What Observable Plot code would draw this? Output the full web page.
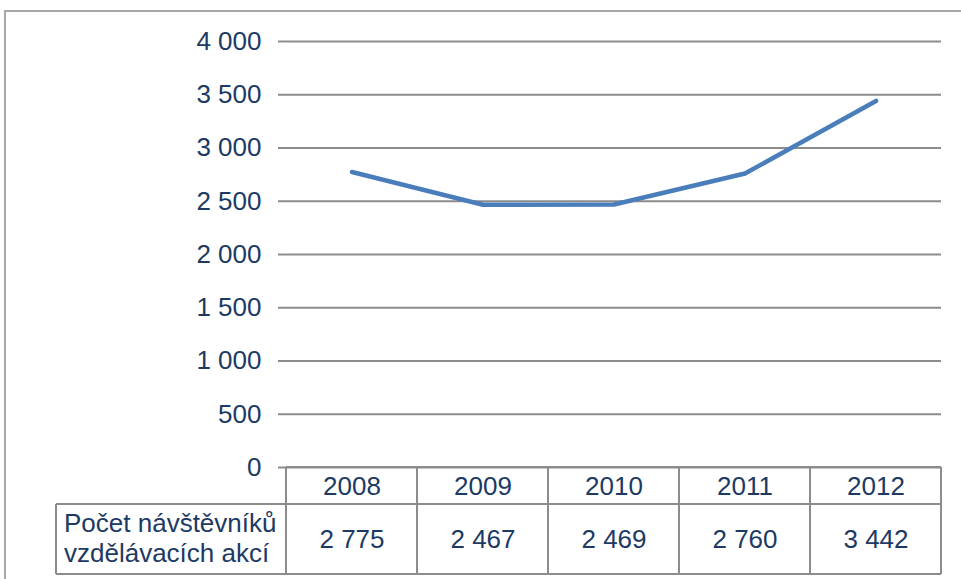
<!DOCTYPE html>
<html>
<head>
<meta charset="utf-8">
<script src="https://cdn.jsdelivr.net/npm/d3@7"></script>
<script src="https://cdn.jsdelivr.net/npm/@observablehq/plot@0.6"></script>
<style>
  html, body { margin: 0; padding: 0; background: #fff; }
  #chart svg { display: block; }
  #chart svg text { font-family: "Liberation Sans", Arial, sans-serif; }
  #chart svg g[aria-label="y-axis tick label"] text { font-size: 26px; }
</style>
</head>
<body>
<div id="chart"></div>
<script>
const years = ["2008", "2009", "2010", "2011", "2012"];
const visitors = [2775, 2467, 2469, 2760, 3442];
const yTicks = [0, 500, 1000, 1500, 2000, 2500, 3000, 3500, 4000];
const seriesLabel = ["Počet návštěvníků", "vzdělávacích akcí"];

const data = years.map((y, i) => ({year: y, value: visitors[i]}));
const fmt = d => d3.format(",")(d).replace(/,/g, " ");
const textColor = "#1c3a63";
const gridColor = "#8c8c8c";
const font = "Liberation Sans, Arial, sans-serif";

const chart = Plot.plot({
  width: 961,
  height: 579,
  marginLeft: 286,
  marginRight: 20,
  marginTop: 41,
  marginBottom: 112,
  style: {fontFamily: font, fontSize: "26px", color: textColor, background: "#fff", overflow: "visible"},
  x: {type: "band", domain: years, padding: 0, axis: null},
  y: {domain: [0, 4000], ticks: yTicks, tickFormat: fmt, tickSize: 8, tickPadding: 17, label: null},
  marks: [
    Plot.gridY(yTicks, {stroke: gridColor, strokeOpacity: 1, strokeWidth: 2}),
    Plot.axisY(yTicks, {tickFormat: fmt, tickSize: 8, tickPadding: 17, stroke: gridColor, strokeWidth: 2, fill: textColor, fontSize: 26, label: null}),
    Plot.ruleX([0], {frameAnchor: "left", stroke: gridColor, strokeWidth: 2}),
    Plot.line(data, {x: "year", y: "value", stroke: "#4a7ebb", strokeWidth: 4.5, strokeLinecap: "round", strokeLinejoin: "round"}),
    // table texts
    Plot.text(data, {x: "year", text: "year", frameAnchor: "bottom", lineAnchor: "middle", dy: 19, fill: textColor, fontSize: 26}),
    Plot.text(data, {x: "year", text: d => fmt(d.value), frameAnchor: "bottom", lineAnchor: "middle", dy: 72, fill: textColor, fontSize: 26})
  ]
});

document.getElementById("chart").appendChild(chart);

// table lines & row label drawn with the plot's own x scale
const svg = d3.select(chart);
const x = chart.scale("x");
const bw = x.bandwidth;
const left = x.apply(years[0]);
const right = x.apply(years[years.length - 1]) + bw;
const yZero = chart.scale("y").apply(0);
const hdrBottom = yZero + 37;
const tblBottom = yZero + 107;
const labelLeft = 56;
const g = svg.append("g").attr("stroke", gridColor).attr("stroke-width", 2).attr("fill", "none");
// outer frame
g.append("rect").attr("x", 5).attr("y", 11).attr("width", 1200).attr("height", 1200).attr("stroke-width", 1.5);
// horizontal lines
g.append("line").attr("x1", left).attr("x2", right).attr("y1", yZero).attr("y2", yZero);
g.append("line").attr("x1", labelLeft).attr("x2", right).attr("y1", hdrBottom).attr("y2", hdrBottom);
g.append("line").attr("x1", labelLeft).attr("x2", right).attr("y1", tblBottom).attr("y2", tblBottom);
// vertical lines
g.append("line").attr("x1", labelLeft).attr("x2", labelLeft).attr("y1", hdrBottom).attr("y2", tblBottom);
years.forEach(yr => {
  const xx = x.apply(yr);
  g.append("line").attr("x1", xx).attr("x2", xx).attr("y1", yZero).attr("y2", tblBottom);
});
g.append("line").attr("x1", right).attr("x2", right).attr("y1", yZero).attr("y2", tblBottom);
// row label
const t = svg.append("text").attr("text-anchor", "start").attr("fill", textColor).attr("font-size", 26).style("font-size", "26px");
seriesLabel.forEach((s, i) => {
  t.append("tspan").attr("x", labelLeft + 8).attr("y", yZero + 65 + i * 30).text(s);
});
</script>
</body>
</html>
